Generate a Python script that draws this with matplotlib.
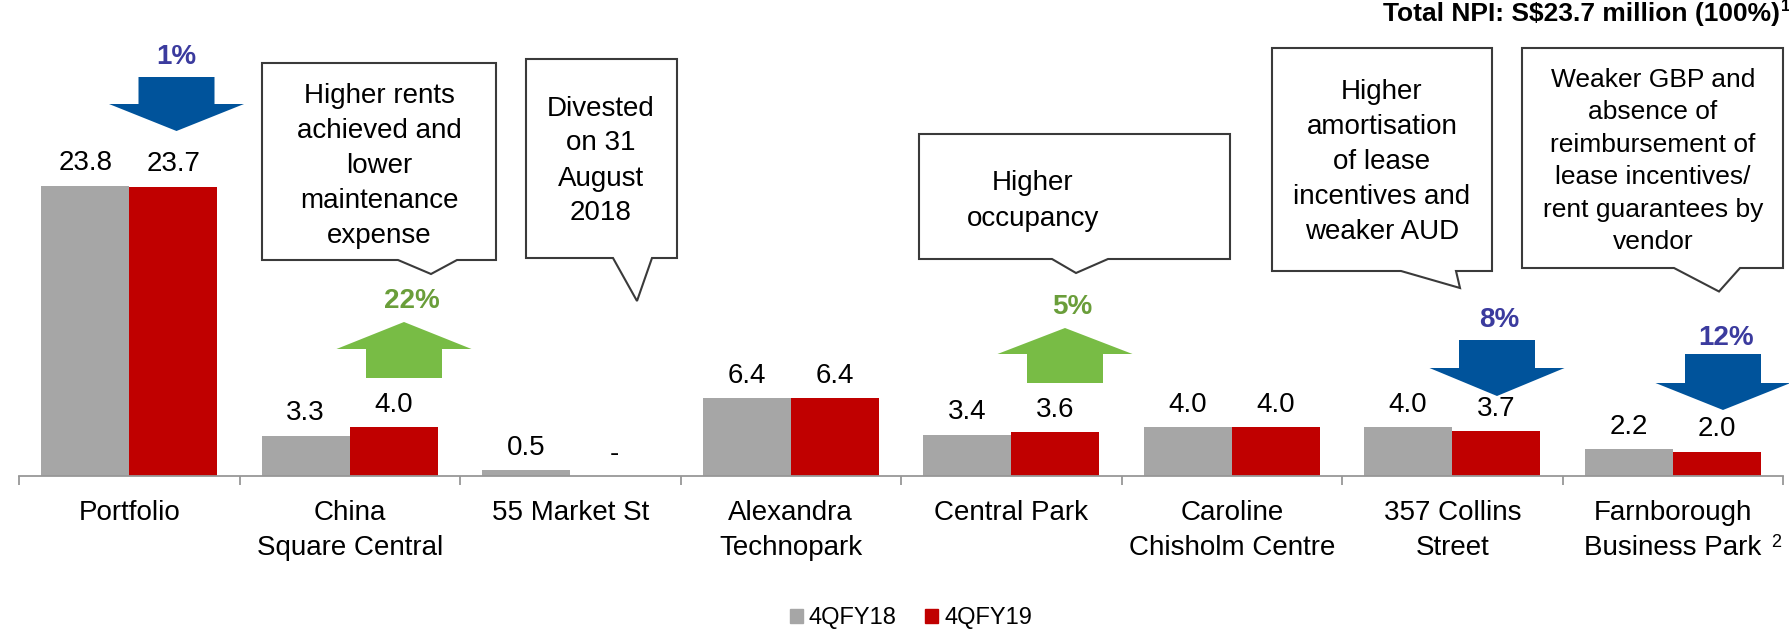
import matplotlib
matplotlib.use("Agg")
import matplotlib.pyplot as plt
import numpy as np
from matplotlib.patches import Polygon, Patch

plt.rcParams["font.family"] = ["Liberation Sans", "DejaVu Sans"]

# ---- data ----
categories = ["Portfolio", "China\nSquare Central", "55 Market St", "Alexandra\nTechnopark",
              "Central Park", "Caroline\nChisholm Centre", "357 Collins\nStreet",
              "Farnborough\nBusiness Park"]
npi_fy18 = [23.8, 3.3, 0.5, 6.4, 3.4, 4.0, 4.0, 2.2]
npi_fy19 = [23.7, 4.0, np.nan, 6.4, 3.6, 4.0, 3.7, 2.0]
series_names = ["4QFY18", "4QFY19"]

changes = ["1%", "22%", "5%", "8%", "12%"]
change_up = [False, True, True, False, False]
notes = ["Higher rents\nachieved and\nlower\nmaintenance\nexpense",
         "Divested\non 31\nAugust\n2018",
         "Higher\noccupancy",
         "Higher\namortisation\nof lease\nincentives and\nweaker AUD",
         "Weaker GBP and\nabsence of\nreimbursement of\nlease incentives/\nrent guarantees by\nvendor"]
title = "Total NPI: S$23.7 million (100%)"

GREY = "#A6A6A6"
RED = "#C00000"
BLUE = "#00539B"
BLUE_TXT = "#3B3B9E"
GREEN = "#78BC45"
GREEN_TXT = "#6A9E3A"

W, H = 1789, 632
fig = plt.figure(figsize=(W / 100, H / 100), dpi=100)
base = 476
ax = fig.add_axes([19 / W, (H - base) / H, 1764 / W, base / H])
ax.set_xlim(-0.5, 7.5)
ax.set_ylim(0, 39.0)

x = np.arange(len(categories))
bw = 0.4
ax.bar(x - bw / 2, npi_fy18, bw, color=GREY, label=series_names[0])
ax.bar(x + bw / 2, np.nan_to_num(npi_fy19), bw, color=RED, label=series_names[1])

for xi, v in zip(x - bw / 2, npi_fy18):
    ax.annotate(f"{v:.1f}", (xi, v), xytext=(0, 11), textcoords="offset points",
                ha="center", va="baseline", fontsize=20)
for xi, v in zip(x + bw / 2, npi_fy19):
    lbl = "-" if np.isnan(v) else f"{v:.1f}"
    yv = 0 if np.isnan(v) else v
    ax.annotate(lbl, (xi, yv), xytext=(0, 11), textcoords="offset points",
                ha="center", va="baseline", fontsize=20)

for s in ("left", "right", "top"):
    ax.spines[s].set_visible(False)
ax.spines["bottom"].set_color("#979797")
ax.spines["bottom"].set_linewidth(1.3)
ax.set_yticks([])
ax.set_xticks(x, categories, fontsize=20, linespacing=1.45)
ax.tick_params(axis="x", which="major", length=0, pad=17)
ax.set_xticks(np.arange(-0.5, 8, 1), minor=True)
ax.tick_params(axis="x", which="minor", length=6.5, width=1.3, color="#979797")

# ---- overlay in pixel coordinates for callouts and arrows ----
ov = fig.add_axes([0, 0, 1, 1], facecolor="none")
ov.set_xlim(0, W)
ov.set_ylim(H, 0)
ov.axis("off")


def block_arrow(cx, tail, head_base, tip, color):
    sh, hh = 38, 67.5
    pts = [(cx - sh, tail), (cx + sh, tail), (cx + sh, head_base), (cx + hh, head_base),
           (cx, tip), (cx - hh, head_base), (cx - sh, head_base)]
    ov.add_patch(Polygon(pts, closed=True, facecolor=color, edgecolor="none"))


def callout(l, r, t, b, p1, tip, p2, text, tx, ty, fs=20):
    pts = [(l, t), (r, t), (r, b), (p2, b), tip, (p1, b), (l, b)]
    ov.add_patch(Polygon(pts, closed=True, facecolor="white", edgecolor="#3A3A3A", lw=1.5))
    ov.text(tx, ty, text, ha="center", va="center", fontsize=fs, linespacing=1.45)


# change arrows: (cx, tail, head_base, tip) and label position
arrow_geo = [(176.5, 77, 104, 131), (404, 378, 349, 322), (1065, 383, 354, 328),
             (1497, 340, 368, 396), (1723, 354, 383, 410)]
label_pos = [(176, 57), (412, 301), (1072, 307), (1499, 320), (1726, 338)]
for txt, up, geo, (lx, ly) in zip(changes, change_up, arrow_geo, label_pos):
    block_arrow(*geo, GREEN if up else BLUE)
    ov.text(lx, ly, txt, ha="center", va="center", fontsize=20, fontweight="bold",
            color=GREEN_TXT if up else BLUE_TXT)

callout(262, 496, 63, 260, 398, (431, 274), 457, notes[0], 379, 166)
callout(526, 677, 59, 258, 613, (637, 301), 652, notes[1], 601, 161)
callout(919, 1230, 134, 259, 1052, (1076, 273), 1108, notes[2], 1033, 201)
callout(1272, 1492, 48, 271, 1401, (1460, 288), 1456, notes[3], 1382, 162)
callout(1522, 1783, 48, 268, 1674, (1719, 291.5), 1740, notes[4], 1653, 161, fs=19)

ov.text(1780, 21, title, ha="right", va="baseline", fontsize=19, fontweight="bold")
ov.text(1781, 11, "1", ha="left", va="baseline", fontsize=12, fontweight="bold")
ov.text(1771, 547, "2", ha="left", va="baseline", fontsize=13)

handles = [Patch(color=GREY), Patch(color=RED)]
fig.legend(handles, series_names, loc="center", bbox_to_anchor=(911 / W, (H - 618) / H),
           ncol=2, frameon=False, fontsize=17, handlelength=0.55, handleheight=0.55,
           handletextpad=0.25, columnspacing=1.2, borderpad=0, borderaxespad=0)

fig.savefig("out.png", dpi=100)
